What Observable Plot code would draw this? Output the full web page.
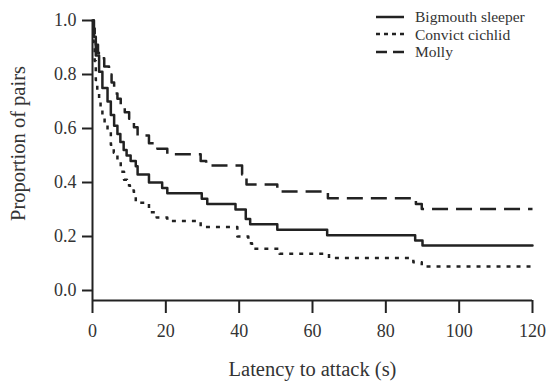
<!DOCTYPE html>
<html>
<head>
<meta charset="utf-8">
<script src="https://cdn.jsdelivr.net/npm/d3@7"></script>
<script src="https://cdn.jsdelivr.net/npm/@observablehq/plot@0.6"></script>
<style>
  body { margin: 0; background: #fff; }
  #wrap { position: relative; width: 548px; height: 383px; font-family: "Liberation Serif", serif; }
  #legend { position: absolute; left: 376px; top: 8px; font-size: 15.5px; color: #333; line-height: 17.5px; }
  #legend .row { display: flex; align-items: center; height: 17.5px; }
  #legend svg { margin-right: 11px; }
</style>
</head>
<body>
<div id="wrap"><div id="chart"></div><div id="legend"></div></div>
<script>
// ---- data ----
const seriesNames = ["Bigmouth sleeper", "Convict cichlid", "Molly"];

const bigmouthTime = [0, 0.4, 0.9, 1.8, 2.7, 4.1, 5.0, 5.9, 6.8, 7.6, 8.5, 9.3, 10.4, 11.8, 12.3, 15.4, 19.0, 20.4, 29.8, 31.3, 39.0, 41.8, 43.0, 50.4, 64.0, 88.0, 90.0, 120];
const bigmouthProp = [1.0, 0.94, 0.87, 0.81, 0.75, 0.70, 0.65, 0.61, 0.58, 0.55, 0.52, 0.50, 0.48, 0.46, 0.43, 0.40, 0.38, 0.36, 0.34, 0.32, 0.30, 0.265, 0.245, 0.225, 0.205, 0.185, 0.167, 0.167];

const convictTime = [0, 0.3, 0.6, 0.9, 1.3, 1.8, 2.2, 2.7, 3.3, 4.1, 5.0, 5.8, 6.8, 7.7, 8.6, 9.4, 10.2, 11.3, 11.8, 15.4, 17.5, 20.4, 29.5, 39.5, 42.5, 43.5, 51.0, 64.5, 87.5, 89.8, 120];
const convictProp = [1.0, 0.92, 0.85, 0.78, 0.74, 0.71, 0.68, 0.65, 0.62, 0.59, 0.54, 0.51, 0.48, 0.44, 0.41, 0.39, 0.37, 0.35, 0.325, 0.29, 0.27, 0.257, 0.235, 0.20, 0.175, 0.155, 0.136, 0.12, 0.105, 0.089, 0.089];

const mollyTime = [0, 0.3, 0.6, 0.9, 1.5, 2.2, 3.2, 4.5, 5.2, 5.9, 6.8, 7.7, 8.8, 10.0, 11.3, 12.3, 15.4, 17.7, 20.4, 29.5, 31.0, 40.8, 42.0, 50.4, 64.2, 88.2, 89.8, 120];
const mollyProp = [1.0, 0.97, 0.94, 0.91, 0.88, 0.86, 0.83, 0.80, 0.77, 0.73, 0.71, 0.685, 0.66, 0.636, 0.605, 0.574, 0.545, 0.525, 0.505, 0.48, 0.463, 0.43, 0.393, 0.367, 0.342, 0.32, 0.302, 0.302];

const xTicks = [0, 20, 40, 60, 80, 100, 120];
const yTicks = [0.0, 0.2, 0.4, 0.6, 0.8, 1.0];
const xLabel = "Latency to attack (s)";
const yLabel = "Proportion of pairs";

// ---- build tables ----
const toRows = (ts, ps) => ts.map((t, i) => ({t, p: ps[i]}));
const bigmouth = toRows(bigmouthTime, bigmouthProp);
const convict = toRows(convictTime, convictProp);
const molly = toRows(mollyTime, mollyProp);

const ink = "#222";
const dashes = ["none", "4,6", "16,8"];

const chart = Plot.plot({
  width: 548,
  height: 383,
  marginLeft: 92,
  marginRight: 16,
  marginTop: 20,
  marginBottom: 83,
  style: {fontFamily: "'Liberation Serif', serif", background: "#fff", color: "#333"},
  x: {domain: [0, 120]},
  y: {domain: [0, 1], range: [290, 20]},
  marks: [
    Plot.axisX({ticks: xTicks, tickSize: 13, tickPadding: 11, fontSize: 18, label: null, stroke: ink, strokeWidth: 2, tickFormat: d => String(d)}),
    Plot.axisY({ticks: yTicks, tickSize: 10, tickPadding: 6, fontSize: 18, label: null, stroke: ink, strokeWidth: 2, tickFormat: d => d.toFixed(1)}),
    Plot.ruleX([0], {stroke: ink, strokeWidth: 2}),
    Plot.ruleY([0], {stroke: ink, strokeWidth: 2, dy: 10}),
    Plot.line(bigmouth, {x: "t", y: "p", curve: "step-after", stroke: ink, strokeWidth: 2.5}),
    Plot.line(convict, {x: "t", y: "p", curve: "step-after", stroke: ink, strokeWidth: 2.5, strokeDasharray: dashes[1], strokeLinecap: "butt"}),
    Plot.line(molly, {x: "t", y: "p", curve: "step-after", stroke: ink, strokeWidth: 2.5, strokeDasharray: dashes[2], strokeLinecap: "butt"}),
    Plot.text([xLabel], {frameAnchor: "bottom", textAnchor: "middle", dy: 69, fontSize: 20.5, fill: "#333", lineAnchor: "middle"}),
    Plot.text([yLabel], {frameAnchor: "left", textAnchor: "middle", rotate: -90, dx: -74, dy: -17, fontSize: 20.5, fill: "#333", lineAnchor: "middle"})
  ]
});
document.getElementById("chart").appendChild(chart);

// ---- legend ----
const legend = document.getElementById("legend");
seriesNames.forEach((name, i) => {
  const row = document.createElement("div");
  row.className = "row";
  const da = i === 1 ? "4,4" : i === 2 ? "11,6" : "none";
  row.innerHTML = `<svg width="28" height="10"><line x1="0" x2="28" y1="5" y2="5" stroke="${ink}" stroke-width="2.5" stroke-dasharray="${da}"/></svg><span>${name}</span>`;
  legend.appendChild(row);
});
</script>
</body>
</html>
